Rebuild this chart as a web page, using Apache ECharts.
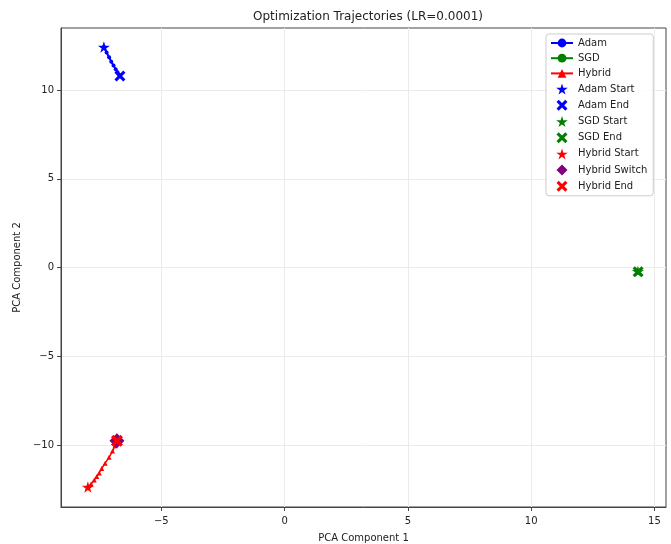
<!DOCTYPE html>
<html>
<head>
<meta charset="utf-8">
<script src="https://cdn.jsdelivr.net/npm/echarts@6/dist/echarts.min.js"></script>
<style>html,body{margin:0;padding:0;background:#fff;}#chart{width:671px;height:544px;}</style>
</head>
<body>
<div id="chart"></div>
<script>
// Data
var adamX = [-7.33, -7.22, -7.12, -7.03, -6.94, -6.85, -6.78, -6.72, -6.68];
var adamY = [12.43, 12.12, 11.85, 11.60, 11.38, 11.18, 11.00, 10.88, 10.79];
var sgdX = [14.33, 14.331, 14.333, 14.335, 14.337, 14.34];
var sgdY = [-0.22, -0.224, -0.228, -0.232, -0.236, -0.24];
var hybridX = [-7.98, -7.85, -7.72, -7.62, -7.52, -7.42, -7.28, -7.12, -6.98, -6.88, -6.80];
var hybridY = [-12.37, -12.20, -11.98, -11.78, -11.58, -11.33, -11.03, -10.70, -10.35, -10.05, -9.77];
var hybridSwitch = [-6.80, -9.77];
var xTicks = [-5, 0, 5, 10, 15];
var yTicks = [-10, -5, 0, 5, 10];

function zip(a, b) { return a.map(function (v, i) { return [v, b[i]]; }); }
var STAR = 'path://M50,0 L61,35 L98,35 L68,57 L79,91 L50,70 L21,91 L32,57 L2,35 L39,35 Z';
var XMARK = 'path://M20,0 L50,30 L80,0 L100,20 L70,50 L100,80 L80,100 L50,70 L20,100 L0,80 L30,50 L0,20 Z';
var DIAM = 'path://M50,0 L100,50 L50,100 L0,50 Z';
function fmt(v) { return v < 0 ? '\u2212' + Math.abs(v) : String(v); }
var font = 'DejaVu Sans';

var adamD = zip(adamX, adamY), sgdD = zip(sgdX, sgdY), hybD = zip(hybridX, hybridY);

var option = {
  animation: false,
  backgroundColor: '#fff',
  title: {
    text: 'Optimization Trajectories (LR=0.0001)',
    left: 363, top: 6, textAlign: 'center',
    textStyle: { fontFamily: font, fontSize: 12, fontWeight: 'normal', color: '#222' }
  },
  grid: { left: 61, top: 28, right: 5, bottom: 37, show: true, borderColor: '#444', borderWidth: 1,
    backgroundColor: 'transparent', containLabel: false, outerBoundsMode: 'none' },
  legend: {
    orient: 'vertical', left: 546, top: 34, itemGap: 5.2, itemWidth: 22, itemHeight: 11,
    backgroundColor: 'rgba(255,255,255,0.85)', borderColor: '#ccc', borderWidth: 1, borderRadius: 3,
    padding: [4, 6, 4, 4],
    textStyle: { fontFamily: font, fontSize: 10, color: '#222' },
    data: ['Adam', 'SGD', 'Hybrid', 'Adam Start', 'Adam End', 'SGD Start', 'SGD End', 'Hybrid Start', 'Hybrid Switch', 'Hybrid End']
  },
  xAxis: {
    type: 'value', min: -9.07, max: 15.47,
    name: 'PCA Component 1', nameLocation: 'middle', nameGap: 26,
    nameTextStyle: { fontFamily: font, fontSize: 10, color: '#222' },
    axisLine: { show: true, onZero: false, lineStyle: { color: '#444' } },
    axisTick: { show: true, length: 4, customValues: xTicks, lineStyle: { color: '#444' } },
    axisLabel: { customValues: xTicks, formatter: fmt, fontFamily: font, fontSize: 10, color: '#222', margin: 9 },
    splitLine: { show: true, lineStyle: { color: '#ebebeb', width: 1 } }
  },
  yAxis: {
    type: 'value', min: -13.5, max: 13.5,
    name: 'PCA Component 2', nameLocation: 'middle', nameGap: 38,
    nameTextStyle: { fontFamily: font, fontSize: 10, color: '#222' },
    axisLine: { show: true, onZero: false, lineStyle: { color: '#444' } },
    axisTick: { show: true, length: 4, customValues: yTicks, lineStyle: { color: '#444' } },
    axisLabel: { customValues: yTicks, formatter: fmt, fontFamily: font, fontSize: 10, color: '#222', margin: 7 },
    splitLine: { show: true, lineStyle: { color: '#ebebeb', width: 1 } }
  },
  series: [
    { name: 'Adam', type: 'line', data: adamD, symbol: 'circle', symbolSize: 4, showAllSymbol: true,
      lineStyle: { color: '#0000ff', width: 2 }, itemStyle: { color: '#0000ff' }, z: 2 },
    { name: 'SGD', type: 'line', data: sgdD, symbol: 'circle', symbolSize: 4, showAllSymbol: true,
      lineStyle: { color: '#008000', width: 2 }, itemStyle: { color: '#008000' }, z: 2 },
    { name: 'Hybrid', type: 'line', data: hybD, symbol: 'triangle', symbolSize: 5, showAllSymbol: true,
      lineStyle: { color: '#ff0000', width: 1.5 }, itemStyle: { color: '#ff0000' }, z: 2 },
    { name: 'Adam Start', type: 'scatter', data: [adamD[0]], symbol: STAR, symbolSize: 12, symbolKeepAspect: true, itemStyle: { color: '#0000ff', opacity: 1 }, z: 3 },
    { name: 'Adam End', type: 'scatter', data: [adamD[adamD.length - 1]], symbol: XMARK, symbolSize: 11, symbolKeepAspect: true, itemStyle: { color: '#0000ff', opacity: 1 }, z: 3 },
    { name: 'SGD Start', type: 'scatter', data: [sgdD[0]], symbol: STAR, symbolSize: 12, symbolKeepAspect: true, itemStyle: { color: '#008000', opacity: 1 }, z: 3 },
    { name: 'SGD End', type: 'scatter', data: [sgdD[sgdD.length - 1]], symbol: XMARK, symbolSize: 11, symbolKeepAspect: true, itemStyle: { color: '#008000', opacity: 1 }, z: 3 },
    { name: 'Hybrid Start', type: 'scatter', data: [hybD[0]], symbol: STAR, symbolSize: 12, symbolKeepAspect: true, itemStyle: { color: '#ff0000', opacity: 1 }, z: 3 },
    { name: 'Hybrid Switch', type: 'scatter', data: [hybridSwitch], symbol: DIAM, symbolSize: 15, symbolKeepAspect: true, itemStyle: { color: '#800080', opacity: 1 }, z: 4 },
    { name: 'Hybrid End', type: 'scatter', data: [hybD[hybD.length - 1]], symbol: XMARK, symbolSize: 12, symbolKeepAspect: true, itemStyle: { color: '#ff0000', opacity: 1 }, z: 5 }
  ]
};
var chart = echarts.init(document.getElementById('chart'), null, { renderer: 'canvas' });
chart.setOption(option);
</script>
</body>
</html>
